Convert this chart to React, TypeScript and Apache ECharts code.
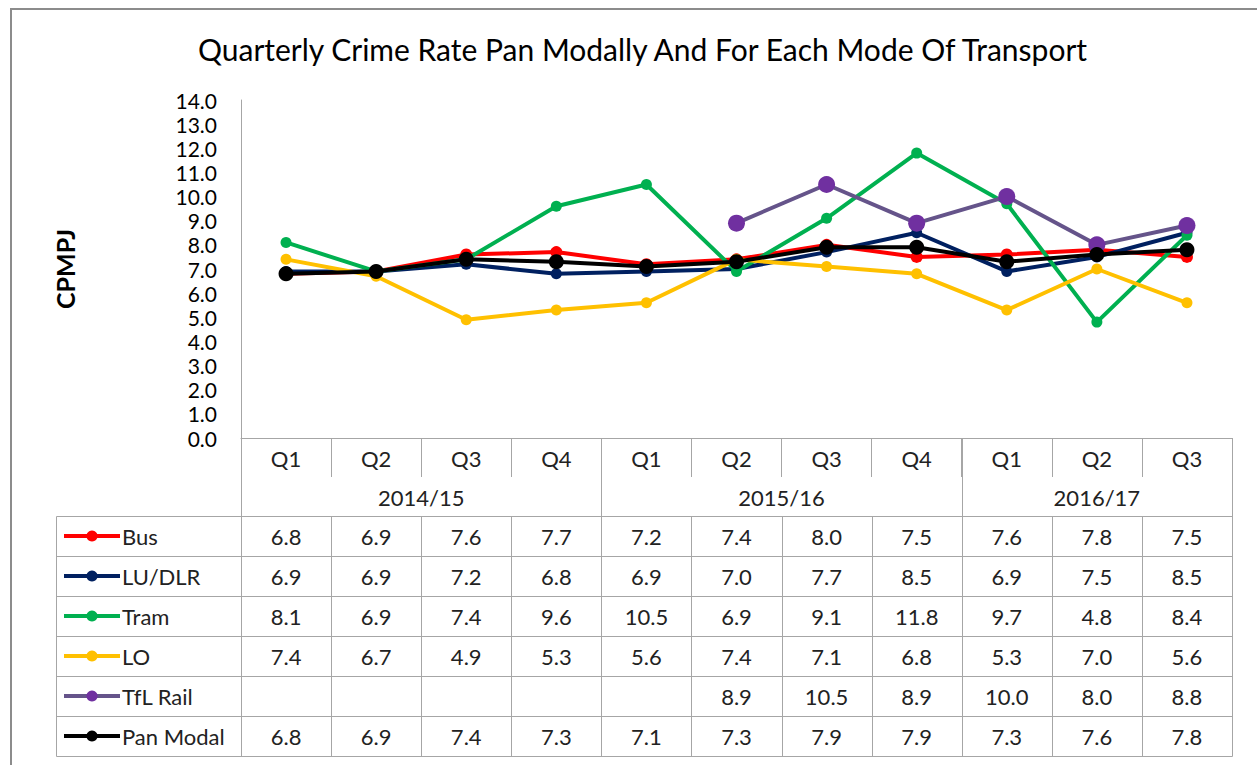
import React, { useEffect, useRef } from 'react';
import * as echarts from 'echarts';

const quarters = ['Q1', 'Q2', 'Q3', 'Q4', 'Q1', 'Q2', 'Q3', 'Q4', 'Q1', 'Q2', 'Q3'];
const years = ['2014/15', '2015/16', '2016/17'];
const yearSpans = [4, 4, 3];

const seriesNames = ['Bus', 'LU/DLR', 'Tram', 'LO', 'TfL Rail', 'Pan Modal'];
const bus = [6.8, 6.9, 7.6, 7.7, 7.2, 7.4, 8.0, 7.5, 7.6, 7.8, 7.5];
const luDlr = [6.9, 6.9, 7.2, 6.8, 6.9, 7.0, 7.7, 8.5, 6.9, 7.5, 8.5];
const tram = [8.1, 6.9, 7.4, 9.6, 10.5, 6.9, 9.1, 11.8, 9.7, 4.8, 8.4];
const lo = [7.4, 6.7, 4.9, 5.3, 5.6, 7.4, 7.1, 6.8, 5.3, 7.0, 5.6];
const tflRail = [null, null, null, null, null, 8.9, 10.5, 8.9, 10.0, 8.0, 8.8];
const panModal = [6.8, 6.9, 7.4, 7.3, 7.1, 7.3, 7.9, 7.9, 7.3, 7.6, 7.8];

const seriesData = [bus, luDlr, tram, lo, tflRail, panModal];
const lineColors = ['#FF0000', '#002060', '#00B050', '#FFC000', '#65548A', '#000000'];
const markerColors = ['#FF0000', '#002060', '#00B050', '#FFC000', '#7030A0', '#000000'];
const markerSizes = [12, 11, 11, 11, 17, 15];

const FONT = 'Lato, "Noto Sans", sans-serif';
const GRID_COLOR = '#A6A6A6';
const TEXT_COLOR = '#222222';
const TABLE_FONT = 22;

export default function App() {
  const ref = useRef<HTMLDivElement>(null);

  useEffect(() => {
    const chart = echarts.init(ref.current as HTMLDivElement, null, { renderer: 'svg' });
    const rowH = 40;
    chart.setOption({
      animation: false,
      backgroundColor: '#FFFFFF',
      textStyle: { fontFamily: FONT },
      title: {
        text: 'Quarterly Crime Rate Pan Modally And For Each Mode Of Transport',
        left: 193,
        top: 29,
        textStyle: { fontFamily: FONT, fontSize: 30, fontWeight: 'normal', color: '#000' },
      },
      legend: {
        orient: 'vertical',
        left: 62,
        top: 525,
        padding: 0,
        itemWidth: 56,
        itemHeight: 14,
        itemGap: rowH - 22,
        selectedMode: false,
        lineStyle: { width: 4 },
        textStyle: { fontFamily: FONT, fontSize: TABLE_FONT, color: TEXT_COLOR, lineHeight: 22, padding: [0, 0, 0, -3] },
        data: seriesNames,
      },
      grid: { left: 241, right: 25, top: 100, bottom: 327, containLabel: false },
      xAxis: {
        type: 'category',
        data: quarters,
        boundaryGap: true,
        axisLine: { show: true, lineStyle: { color: GRID_COLOR, width: 1 } },
        axisTick: { show: true, length: 39, interval: 0, lineStyle: { color: GRID_COLOR, width: 1 } },
        axisLabel: { interval: 0, margin: 9, fontFamily: FONT, fontSize: TABLE_FONT, color: TEXT_COLOR },
        splitLine: { show: false },
      },
      yAxis: {
        type: 'value',
        min: 0,
        max: 14,
        interval: 1,
        name: 'CPMPJ',
        nameLocation: 'middle',
        nameRotate: 90,
        nameGap: 164,
        nameTextStyle: { fontFamily: FONT, fontSize: 25, fontWeight: 'bold', color: '#000' },
        axisLine: { show: true, lineStyle: { color: GRID_COLOR, width: 1 } },
        axisTick: { show: false },
        axisLabel: {
          margin: 24,
          fontFamily: FONT,
          fontSize: 21,
          lineHeight: 21,
          color: '#000',
          formatter: (v: number) => v.toFixed(1),
        },
        splitLine: { show: false },
      },
      series: seriesNames.map((name, i) => ({
        name,
        type: 'line',
        data: seriesData[i],
        symbol: 'circle',
        symbolSize: markerSizes[i],
        showAllSymbol: true,
        connectNulls: false,
        lineStyle: { width: 4, color: lineColors[i] },
        itemStyle: { color: markerColors[i] },
        z: 2 + i,
      })),
    });

    // Data table built from the axis scale
    const xs = quarters.map((_, i) => chart.convertToPixel({ xAxisIndex: 0 }, i) as number);
    const axisY = chart.convertToPixel({ yAxisIndex: 0 }, 0) as number;
    const colW = xs[1] - xs[0];
    const left = xs[0] - colW / 2;
    const right = xs[xs.length - 1] + colW / 2;
    const headerH = 78;
    const tableTop = axisY + headerH;
    const tableBottom = tableTop + rowH * seriesNames.length;
    const keyLeft = 56;
    const px = (v: number) => Math.round(v) + 0.5;
    const lineStyle = { stroke: GRID_COLOR, lineWidth: 1 };
    const g: any[] = [];

    g.push({
      type: 'rect',
      silent: true,
      shape: { x: 11, y: 9, width: 1270, height: 780 },
      style: { fill: 'none', stroke: '#8C8C8C', lineWidth: 2 },
    });

    const hLine = (x1: number, x2: number, y: number) =>
      g.push({ type: 'line', silent: true, shape: { x1: px(x1), y1: px(y), x2: px(x2), y2: px(y) }, style: lineStyle });
    const vLine = (x: number, y1: number, y2: number) =>
      g.push({ type: 'line', silent: true, shape: { x1: px(x), y1: px(y1), x2: px(x), y2: px(y2) }, style: lineStyle });

    for (let r = 0; r <= seriesNames.length; r++) hLine(keyLeft, right, tableTop + r * rowH);
    vLine(keyLeft, tableTop, tableBottom);
    vLine(left, axisY, tableBottom);
    vLine(right, axisY, tableBottom);
    for (let c = 1; c < quarters.length; c++) vLine(left + c * colW, tableTop, tableBottom);

    let start = 0;
    years.forEach((yr, k) => {
      const span = yearSpans[k];
      const x0 = left + start * colW;
      const x1 = left + (start + span) * colW;
      if (k > 0) vLine(x0, axisY, tableTop);
      g.push({
        type: 'text',
        silent: true,
        x: (x0 + x1) / 2,
        y: axisY + 59,
        style: { text: yr, fontFamily: FONT, fontSize: TABLE_FONT, fill: TEXT_COLOR, textAlign: 'center', textVerticalAlign: 'middle' },
      });
      start += span;
    });

    seriesData.forEach((arr, r) => {
      arr.forEach((v, c) => {
        if (v === null || v === undefined) return;
        g.push({
          type: 'text',
          silent: true,
          x: xs[c],
          y: tableTop + r * rowH + rowH / 2,
          style: {
            text: (v as number).toFixed(1),
            fontFamily: FONT,
            fontSize: TABLE_FONT,
            fill: TEXT_COLOR,
            textAlign: 'center',
            textVerticalAlign: 'middle',
          },
        });
      });
    });

    chart.setOption({ graphic: g });
    return () => chart.dispose();
  }, []);

  return <div ref={ref} style={{ position: 'fixed', left: 0, top: 0, width: 1257, height: 765 }} />;
}
